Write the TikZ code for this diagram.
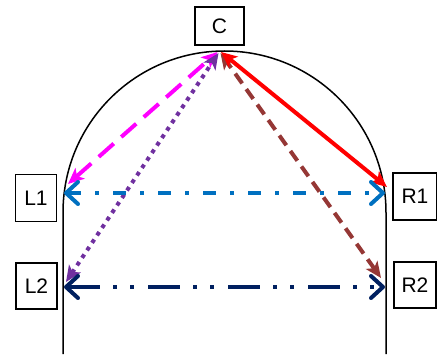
\documentclass[tikz,border=0pt]{standalone}
\usepackage{fontspec}
\setmainfont{Liberation Sans}
\usetikzlibrary{arrows.meta}
\definecolor{cmag}{HTML}{FF00FF}
\definecolor{cpur}{HTML}{7030A0}
\definecolor{cbrn}{HTML}{953735}
\definecolor{cred}{HTML}{FF0000}
\definecolor{cblu}{HTML}{0070C0}
\definecolor{cnav}{HTML}{002060}
\begin{document}
\begin{tikzpicture}[x=1pt,y=1pt,
  box/.style={draw, line width=1.2pt, inner sep=0pt, font=\fontsize{21}{25}\selectfont},
  fillarrow/.style={line width=4pt, {Stealth[length=16pt,width=14pt,inset=4pt]}-{Stealth[length=16pt,width=14pt,inset=4pt]}},
  openarrow/.style={line width=4pt, {Straight Barb[length=12pt,width=22pt,round]}-{Straight Barb[length=12pt,width=22pt,round]}},
  wall/.style={line width=1.5pt}]
\useasboundingbox (0,0) rectangle (437,354);
% boxes
\node[box, minimum width=49pt, minimum height=38pt] (C) at (219.5,328) {C};
\node[box, minimum width=41pt, minimum height=47pt] (L1) at (36,156) {L1};
\node[box, minimum width=44pt, minimum height=47pt] (R1) at (415,157.5) {R1};
\node[box, minimum width=41pt, minimum height=46pt] (L2) at (36.5,68) {L2};
\node[box, minimum width=42pt, minimum height=46pt] (R2) at (415,69) {R2};
% arch
\draw[wall] (63,0) -- (63,141.5) arc[start angle=180,end angle=0,radius=161.5pt] -- (386,0);
% coordinates
\coordinate (cm) at (217.5,302);
\coordinate (cp) at (218.5,301);
\coordinate (cr) at (221,302);
\coordinate (cb) at (220.5,301);
\coordinate (l1m) at (68,170);
\coordinate (l1) at (64,161);
\coordinate (r1r) at (387,167);
\coordinate (r1) at (385,161);
\coordinate (l2p) at (66,72);
\coordinate (l2) at (64,67);
\coordinate (r2b) at (381,76);
\coordinate (r2) at (385,67);
% connectors
\draw[fillarrow, cmag, dash pattern=on 20pt off 10pt] (l1m) -- (cm);
\draw[fillarrow, cpur, dash pattern=on 4pt off 5pt] (l2p) -- (cp);
\draw[fillarrow, cbrn, dash pattern=on 12pt off 7pt] (r2b) -- (cb);
\draw[fillarrow, cred] (r1r) -- (cr);
\draw[openarrow, cblu, dash pattern=on 13pt off 14pt on 4pt off 14pt] (l1) -- (r1);
\draw[openarrow, cnav, dash pattern=on 32pt off 13pt on 4pt off 13pt on 4pt off 14pt] (l2) -- (r2);
\end{tikzpicture}
\end{document}
